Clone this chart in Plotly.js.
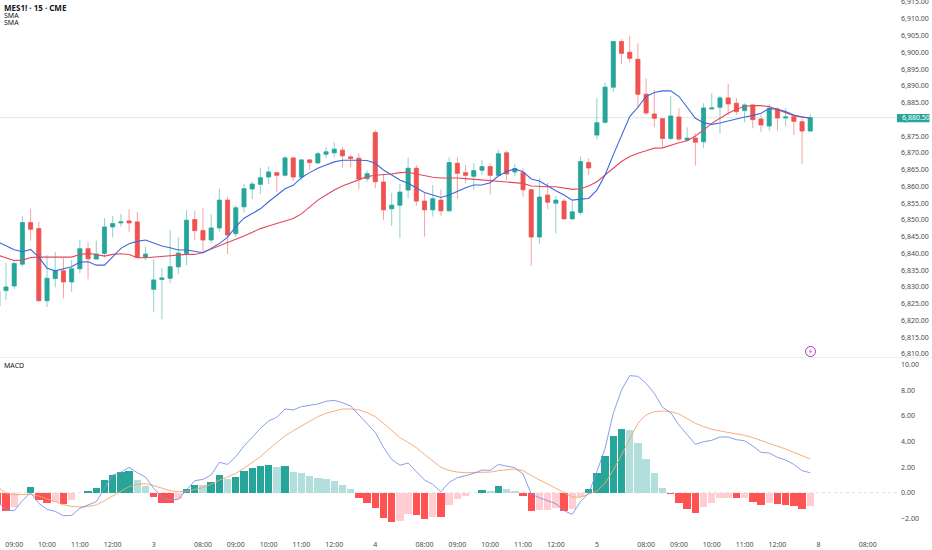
<!DOCTYPE html>
<html><head><meta charset="utf-8">
<script src="https://cdn.plot.ly/plotly-3.0.1.min.js"></script>
<style>html,body{margin:0;padding:0;background:#fff}#c{width:932px;height:550px}</style></head>
<body><div id="c"></div>
<script>
const opens=[6824.3,6828.9,6830.3,6836.8,6849.2,6847.4,6825.9,6832.5,6834.8,6831.5,6835.4,6841.4,6838.3,6840,6847.9,6849.1,6849.7,6849.4,6838.8,6829.3,6832.2,6832.6,6836,6840,6850.1,6846.8,6844,6847.6,6855.9,6845.9,6853.9,6859.2,6860.6,6862.8,6864.1,6863.3,6868.5,6862.8,6867.9,6867,6869.6,6870,6870.8,6868.8,6868.4,6862.3,6876.1,6861.3,6853.3,6854.4,6858.9,6865.4,6855.6,6853,6855.9,6852.7,6866.9,6864.1,6863,6864.8,6865.9,6863.3,6870,6864.3,6864.1,6859,6844.9,6857.4,6855,6855.6,6850.3,6852.2,6867.1,6875.3,6879.1,6889.6,6903.2,6900,6897.9,6887.5,6881.6,6880.2,6874.3,6880.7,6873.8,6874.4,6873.3,6883.1,6883.6,6886.4,6884.8,6882.6,6884.3,6880.1,6878,6883.1,6880.4,6880.8,6879.3,6876.5];
const highs=[6830,6837.2,6838,6851.2,6853.3,6849.5,6839.5,6840.5,6838.6,6838,6844,6843.4,6843.8,6850.5,6851.2,6851.8,6853.2,6852.4,6842,6838.2,6835.6,6847,6844.8,6853,6852.7,6853.5,6851.8,6859.3,6856.9,6854.4,6860.7,6861.4,6865.6,6865.9,6864.4,6869.1,6868.9,6868.1,6868.2,6870.3,6871.7,6873.1,6871.8,6869.4,6869.9,6864.7,6876.8,6863.7,6858.1,6860.7,6868.6,6866.3,6858.1,6860.4,6859.1,6868.7,6868.7,6866.4,6866.9,6867.9,6866.9,6870.9,6870.6,6866.7,6865.4,6859.2,6862.4,6861.1,6857.2,6856.2,6855.6,6868.9,6868.4,6886.3,6891,6903.4,6903.9,6904.9,6902.7,6892.2,6888.8,6880.3,6887,6883.3,6877.6,6875.8,6884.8,6887.8,6887,6890.5,6886.3,6884.8,6884.5,6881.5,6884.5,6883.6,6883.3,6881.5,6880.3,6881.5];
const lows=[6823.4,6826.1,6829.4,6836,6843.8,6825.6,6824,6829.9,6826.6,6828.6,6834.1,6832.3,6838.3,6838.8,6844.8,6848,6846.5,6838.5,6838,6822.6,6820.4,6831.1,6833.9,6836.5,6844,6840,6843,6846.5,6839.8,6845,6852.2,6856.2,6857.7,6860.7,6858.3,6862.9,6861.7,6861.9,6864.9,6866.7,6868.4,6868.7,6865.6,6865.6,6859.1,6861.4,6859.4,6850,6848.2,6844.5,6856.4,6854.1,6845,6851,6851.2,6852.5,6856.3,6861.1,6858.9,6863.4,6857.6,6863.1,6861.9,6863.1,6856.9,6836.3,6842.8,6853.2,6846,6850.3,6850.2,6851.5,6863.4,6874,6878.8,6888.1,6896.5,6896.9,6883.3,6881.3,6877.6,6871.4,6873.8,6873.6,6873.6,6866.2,6871.4,6883,6875.8,6881.3,6881.3,6879.1,6877.3,6876.3,6876.6,6876.6,6878,6875.3,6866.7,6876.5];
const closes=[6828.9,6830,6837,6849.2,6847.2,6825.9,6832.6,6834.8,6831.5,6835.4,6841.4,6838.4,6839.8,6847.9,6848.9,6849.4,6849.1,6838.8,6839.8,6832.1,6832.7,6836,6840.1,6849.9,6846.8,6844,6847.6,6855.9,6845.5,6853.6,6859.3,6860.7,6862.6,6864.3,6863.3,6868.5,6862.8,6867.9,6867.1,6869.7,6870.3,6871.1,6869.1,6868.3,6862.2,6863.8,6861.4,6853,6854.4,6858.3,6865.4,6855.6,6853,6856.3,6852.7,6867.1,6863.9,6863.3,6864.7,6865.9,6863.3,6869.7,6863.7,6865.3,6859,6844.9,6856.8,6855.3,6855.9,6850.3,6852.4,6867.4,6865.5,6879,6889.6,6903.2,6899.7,6898.2,6887.5,6881.9,6880.3,6874.3,6881,6874.1,6874.4,6873.2,6883.4,6883.4,6886.4,6884.6,6882.3,6884.3,6879.9,6878.3,6883.3,6880.4,6880.7,6879.4,6876.5,6880.5];
const smaFast=[6843.5,6842.2,6841.1,6840.5,6841.2,6838.9,6835.6,6834.8,6835.3,6836,6837.4,6837.5,6836.5,6836.5,6839,6841.5,6842.9,6843.6,6844,6843,6842.2,6841.7,6841,6841,6840.7,6840.2,6841.5,6843,6844.8,6848,6850.5,6852,6853.3,6855.4,6857.4,6859.3,6860.3,6862.6,6864.1,6865.4,6866.4,6867.3,6867.8,6867.9,6867.8,6867.7,6866.9,6864.9,6863.4,6861.9,6860.9,6859.5,6858.2,6857.4,6856.7,6857.4,6858.6,6859.6,6860.4,6860.4,6861.1,6863.1,6864.4,6865.2,6864.4,6862.2,6861.6,6860.1,6858.7,6857.4,6855.9,6856.2,6856.4,6858.9,6863.4,6869.4,6875.3,6880.8,6883.6,6886.8,6888,6888.5,6888.5,6886.8,6883.6,6880.3,6879,6878.5,6878.9,6879.5,6880.3,6880.7,6881.1,6881.8,6883.2,6883,6882.3,6881.3,6880.7,6880.4];
const smaSlow=[6839.5,6838.6,6837.9,6838,6838.8,6838.9,6838.9,6838.9,6838.9,6838.9,6839.7,6840,6839.7,6839.2,6839.7,6839.9,6839.7,6838.7,6838.7,6838.9,6839.2,6839.5,6839.7,6839.7,6839.7,6840.3,6841.3,6842.2,6843.2,6844.2,6845.2,6846.4,6847.4,6848.2,6848.9,6849.5,6850.4,6851.8,6853.8,6855.9,6857.4,6858.9,6860.1,6861.1,6861.9,6862.9,6863.3,6863.4,6863.7,6864.1,6864.2,6863.7,6863.1,6862.7,6862.5,6862.6,6862.5,6862.3,6862.1,6861.8,6861.6,6861.5,6861.4,6861.2,6860.9,6860.1,6859.9,6859.9,6859.9,6859.6,6859.1,6859.3,6860.1,6861.4,6863.4,6865.6,6867.4,6868.9,6869.9,6870.6,6871.4,6871.5,6872.3,6873,6873.6,6875,6876.8,6878.8,6880.3,6881.8,6883,6883.9,6884.1,6884.1,6883.8,6883,6882,6881.1,6880.6,6880.3];
const hist=[-1,-1.43,-1.1,-0.05,0.47,-0.6,-0.83,-0.73,-0.86,-0.6,-0.05,0.13,0.36,1,1.38,1.64,1.67,0.96,0.52,-0.31,-0.78,-0.8,-0.52,0.31,0.62,0.62,0.8,1.38,1.04,1.25,1.67,1.9,2.08,2.16,2,2.08,1.6,1.54,1.3,1.17,1.04,0.91,0.57,0.26,-0.44,-0.78,-1.17,-1.95,-2.32,-2.19,-1.64,-1.77,-2.03,-1.9,-1.93,-0.96,-0.52,-0.26,-0.05,0.18,0.1,0.5,0.31,0.16,-0.29,-1.43,-1.35,-1.35,-1.22,-1.43,-1.3,-0.34,0.31,1.51,2.86,4.43,4.95,4.87,3.85,2.6,1.54,0.39,-0.08,-0.78,-1.25,-1.61,-1.15,-0.83,-0.44,-0.39,-0.44,-0.42,-0.73,-1,-0.81,-0.91,-0.94,-1.04,-1.25,-1.04];
const macd=[-0.7,-1.35,-1.41,-0.62,0,-0.83,-1.3,-1.46,-1.8,-1.77,-1.22,-0.96,-0.7,0.34,1.38,1.59,1.98,1.56,1.22,0.34,-0.36,-0.57,-0.52,0.21,0.94,1.04,1.38,2.37,2.21,2.81,3.65,4.32,5.03,5.6,5.89,6.54,6.46,6.72,6.82,6.93,7.14,7.21,7.03,6.77,6.07,5.42,4.71,3.54,2.6,2.14,2.32,1.64,0.99,0.65,0.08,0.81,1.17,1.33,1.51,1.77,1.74,2.21,2.08,1.95,1.46,-0.1,-0.39,-0.62,-0.86,-1.41,-1.69,-0.7,-0.05,1.64,3.46,6.2,8.02,9.14,9.09,8.54,7.76,6.67,6.25,5.29,4.51,3.78,3.98,4.09,4.35,4.35,4.14,4.06,3.65,3.15,3.1,2.76,2.55,2.21,1.72,1.56];
const signal=[0.47,-0.05,-0.16,-0.16,-0.13,-0.26,-0.47,-0.7,-0.94,-1.07,-1.12,-1.07,-0.96,-0.62,-0.26,0.08,0.47,0.65,0.7,0.55,0.34,0.16,0.08,0.1,0.26,0.39,0.65,0.99,1.22,1.51,1.9,2.34,2.81,3.39,3.93,4.43,4.84,5.21,5.62,5.94,6.2,6.38,6.54,6.54,6.46,6.25,5.94,5.42,4.82,4.3,3.93,3.52,2.99,2.47,1.98,1.74,1.61,1.56,1.56,1.61,1.61,1.72,1.8,1.85,1.72,1.33,0.99,0.68,0.34,-0.05,-0.34,-0.36,-0.1,0.13,0.75,1.77,2.94,4.24,5.42,6.07,6.33,6.38,6.33,6.15,5.81,5.42,5.16,4.95,4.82,4.71,4.61,4.48,4.3,4.09,3.88,3.65,3.41,3.15,2.89,2.63];
const tickIdx=[2,6,10,14,19,25,29,33,37,41,46,52,56,60,64,68,73,79,83,87,91,95,100,106];
const tickText=['09:00','10:00','11:00','12:00','3','08:00','09:00','10:00','11:00','12:00','4','08:00','09:00','10:00','11:00','12:00','5','08:00','09:00','10:00','11:00','12:00','8','08:00'];
const priceTicks=[6810,6815,6820,6825,6830,6835,6840,6845,6850,6855,6860,6865,6870,6875,6880,6885,6890,6895,6900,6905,6910,6915];
const macdTicks=[-2,0,2,4,6,8,10];
const lastPrice=closes[closes.length-1];

const UP='#26a69a',DOWN='#ef5350',UPW='#8ed1ca',DOWNW='#f5a3a3';
const FONT='"Noto Sans","Open Sans",sans-serif';
const idx=opens.map((_,i)=>i);
const W=897,H=530;
const px=v=>v/W, py=v=>1-v/H;

const histColors=hist.map((v,i)=>{
  const prev=i?hist[i-1]:(v<0?0:-9);
  if(v>=0) return v>prev?'#26a69a':'#b2dfdb';
  return v<prev?'#ff5252':'#ffcdd2';
});

const traces=[
 {type:'candlestick',x:idx,open:opens,high:highs,low:lows,close:closes,xaxis:'x',yaxis:'y',whiskerwidth:0,
  increasing:{line:{color:UPW,width:1},fillcolor:UP},decreasing:{line:{color:DOWNW,width:1},fillcolor:DOWN},hoverinfo:'skip',showlegend:false},
 {type:'candlestick',x:idx,open:opens,close:closes,high:opens.map((o,i)=>Math.max(o,closes[i])),low:opens.map((o,i)=>Math.min(o,closes[i])),xaxis:'x',yaxis:'y',whiskerwidth:0,
  increasing:{line:{color:UP,width:0.5},fillcolor:UP},decreasing:{line:{color:DOWN,width:0.5},fillcolor:DOWN},hoverinfo:'skip',showlegend:false},
 {type:'scatter',mode:'lines',x:idx,y:smaSlow,xaxis:'x',yaxis:'y',line:{color:'#e2475f',width:1.1},hoverinfo:'skip',showlegend:false},
 {type:'scatter',mode:'lines',x:idx,y:smaFast,xaxis:'x',yaxis:'y',line:{color:'#3f66dc',width:1.1},hoverinfo:'skip',showlegend:false},
 {type:'bar',x:idx,y:hist,xaxis:'x',yaxis:'y2',width:0.9,marker:{color:histColors,line:{width:0}},hoverinfo:'skip',showlegend:false},
 {type:'scatter',mode:'lines',x:idx,y:signal,xaxis:'x',yaxis:'y2',line:{color:'#f5a56c',width:0.9},hoverinfo:'skip',showlegend:false},
 {type:'scatter',mode:'lines',x:idx,y:macd,xaxis:'x',yaxis:'y2',line:{color:'#7d92e6',width:0.9},hoverinfo:'skip',showlegend:false}
];

const note=(text,x,y,size,color,extra)=>Object.assign({xref:'paper',yref:'paper',x:px(x),y:py(y),text,showarrow:false,borderpad:0,xanchor:'left',yanchor:'middle',font:{family:FONT,size,color}},extra||{});

const layout={
 width:932,height:550,margin:{l:0,r:35,t:0,b:20},paper_bgcolor:'#fff',plot_bgcolor:'#fff',font:{family:FONT,size:7,color:'#4a4a4a'},
 showlegend:false,bargap:0,
 xaxis:{domain:[0,1],anchor:'y2',range:[0.27,109.57],tickmode:'array',tickvals:tickIdx,ticktext:tickText,showgrid:false,zeroline:false,showline:false,ticks:'',ticklabelstandoff:9,tickfont:{family:FONT,size:7,color:'#4a4a4a'},rangeslider:{visible:false},tickangle:0},
 yaxis:{domain:[(H-358)/H,1],side:'right',range:[6808.8,6915.6],tickmode:'array',tickvals:priceTicks,tickformat:',.2f',showgrid:false,zeroline:false,showline:false,ticks:'',ticklabelstandoff:3,ticklabeloverflow:'allow',tickfont:{family:FONT,size:7,color:'#4a4a4a'}},
 yaxis2:{domain:[0,(H-358)/H],side:'right',anchor:'x',range:[-2.914,10.52],tickmode:'array',tickvals:macdTicks,tickformat:'.2f',showgrid:false,zeroline:false,showline:false,ticks:'',ticklabelstandoff:3,ticklabeloverflow:'allow',tickfont:{family:FONT,size:7,color:'#4a4a4a'}},
 shapes:[
  {type:'line',xref:'paper',yref:'paper',x0:0,x1:932/W,y0:py(357.5),y1:py(357.5),line:{color:'#eceef2',width:1}},
  {type:'line',xref:'paper',yref:'y',x0:0,x1:1,y0:lastPrice,y1:lastPrice,line:{color:'#cfe6e3',width:0.8},layer:'below'},
  {type:'line',xref:'paper',yref:'y2',x0:0,x1:1,y0:0,y1:0,line:{color:'#d4d7dd',width:0.8,dash:'3px,3px'},layer:'below'},
  {type:'rect',xref:'paper',yref:'paper',x0:px(897),x1:px(929.5),y0:py(114),y1:py(122.3),fillcolor:'#26a69a',line:{width:0}},
  {type:'circle',xref:'paper',yref:'paper',x0:px(805.5),x1:px(815.5),y0:py(346.5),y1:py(356.5),fillcolor:'#fff',line:{color:'#9c27b0',width:0.9}}
 ],
 annotations:[
  note('<b>MES1! · 15 · CME</b>',3,7.3,8,'#131722'),
  note('SMA',3,15.3,7,'#131722'),
  note('SMA',3,23,7,'#131722'),
  note('MACD',3,365.5,7,'#131722'),
  note('6,880.50',900.5,118,7,'#ffffff'),
  note('⚡',810.5,351.5,7,'#9c27b0',{xanchor:'center',font:{family:'"DejaVu Sans"',size:7,color:'#9c27b0'}})
 ]
};
Plotly.newPlot('c',traces,layout,{staticPlot:true,displayModeBar:false});
</script></body></html>
